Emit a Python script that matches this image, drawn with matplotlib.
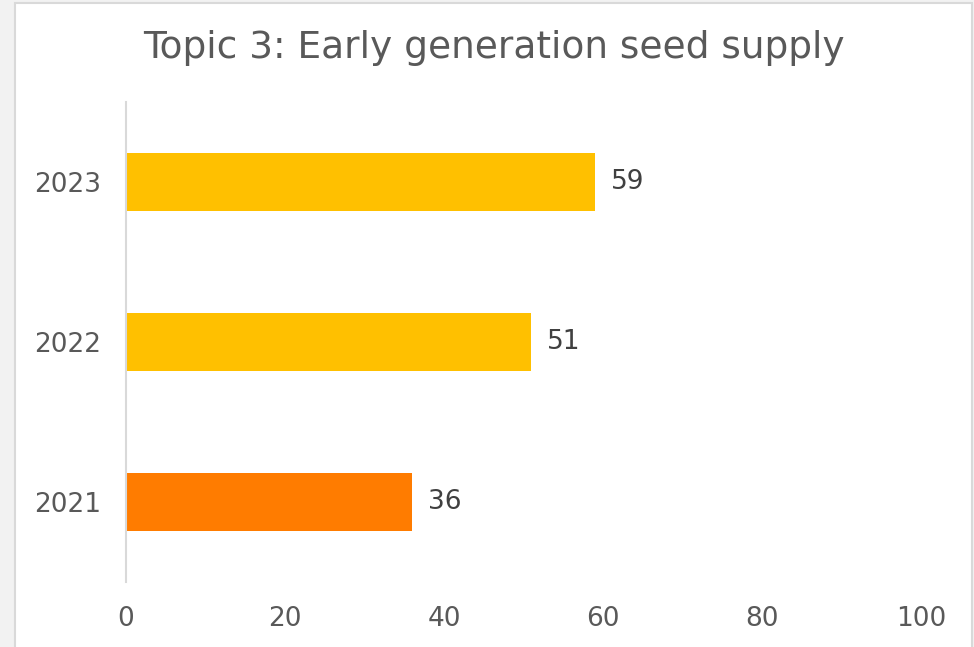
import matplotlib.pyplot as plt
from matplotlib.patches import Rectangle

years = ["2021", "2022", "2023"]
scores = [36, 51, 59]
bar_colors = ["#FF7C00", "#FFC000", "#FFC000"]
x_ticks = [0, 20, 40, 60, 80, 100]

W, H = 974, 647
fig = plt.figure(figsize=(W / 100, H / 100), dpi=100, facecolor="#F2F2F2")

# white chart panel with light border
panel = Rectangle((15 / W, -0.01), (972 - 15) / W, 1 - 3 / H + 0.01,
                  transform=fig.transFigure, facecolor="white",
                  edgecolor="#D9D9D9", linewidth=1.5, zorder=-1)
fig.patches.append(panel)

ax = fig.add_axes([126 / W, (H - 582) / H, (921 - 126) / W, (582 - 102) / H])
ax.set_facecolor("none")
ax.set_zorder(2)

text_col = "#595959"
ax.barh(years, scores, height=0.36, color=bar_colors)
for i, v in enumerate(scores):
    ax.text(v + 2.0, i, str(v), va="center", ha="left", fontsize=19, color="#404040")

ax.set_xlim(0, 100)
ax.set_ylim(-0.5, 2.5)
ax.set_xticks(x_ticks)
ax.tick_params(axis="both", length=0, labelsize=19, labelcolor=text_col)
ax.tick_params(axis="x", pad=17)
ax.tick_params(axis="y", pad=18)
for s in ["top", "right", "bottom"]:
    ax.spines[s].set_visible(False)
ax.spines["left"].set_color("#D9D9D9")
ax.spines["left"].set_linewidth(1.5)

fig.text(494 / W, 1 - 48 / H, "Topic 3: Early generation seed supply",
         ha="center", va="center", fontsize=27, color=text_col)

fig.savefig("out.png", dpi=100, facecolor=fig.get_facecolor())
